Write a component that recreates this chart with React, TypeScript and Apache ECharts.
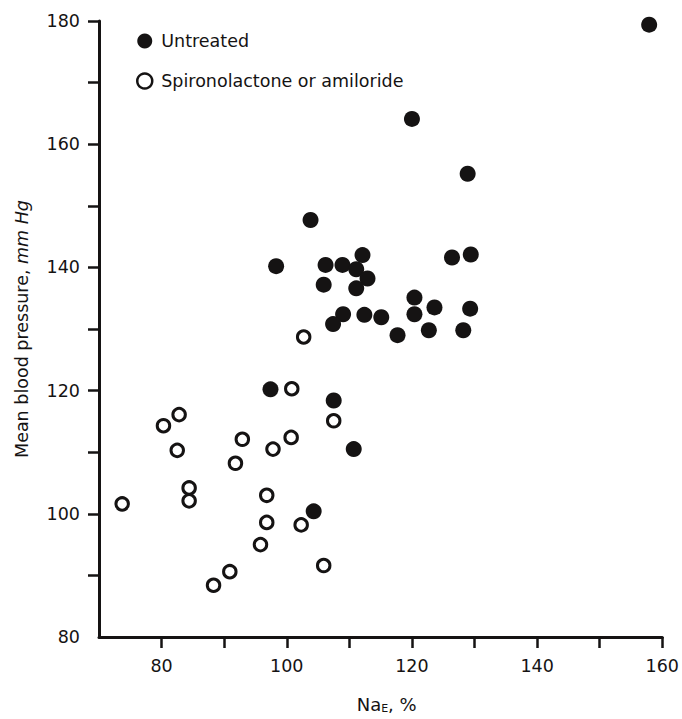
import React, { useEffect, useRef } from "react";
import * as echarts from "echarts";

const untreatedX = [157.9, 120.0, 128.9, 103.8, 98.3, 106.2, 108.9, 112.1, 111.1, 112.9, 111.1, 105.9, 126.4, 129.4, 120.4, 120.4, 123.6, 129.3, 109.0, 112.4, 115.1, 107.4, 117.7, 122.7, 128.2, 97.4, 107.5, 110.7, 104.3];
const untreatedY = [179.4, 164.1, 155.2, 147.7, 140.2, 140.4, 140.4, 142.0, 139.7, 138.2, 136.6, 137.2, 141.6, 142.1, 135.1, 132.4, 133.5, 133.3, 132.4, 132.3, 131.9, 130.8, 129.0, 129.8, 129.8, 120.2, 118.4, 110.5, 100.4];

const treatedX = [102.7, 100.8, 82.8, 80.3, 82.5, 92.9, 91.8, 97.8, 100.7, 107.5, 84.4, 84.4, 73.7, 96.8, 96.8, 95.8, 102.3, 105.9, 90.9, 88.3];
const treatedY = [128.7, 120.3, 116.1, 114.3, 110.3, 112.1, 108.2, 110.5, 112.4, 115.1, 104.2, 102.1, 101.6, 103.0, 98.6, 95.0, 98.2, 91.6, 90.6, 88.4];

const seriesNames = ["Untreated", "Spironolactone or amiloride"];
const xTicks = [80, 90, 100, 110, 120, 130, 140, 150, 160];
const xLabels = [80, 100, 120, 140, 160];
const yTicks = [90, 100, 110, 120, 130, 140, 150, 160, 170, 180];
const yLabels = [80, 100, 120, 140, 160, 180];

const INK = "#151313";
const FONT = "DejaVu Sans";

export default function App() {
  const ref = useRef<HTMLDivElement>(null);
  useEffect(() => {
    if (!ref.current) return;
    const chart = echarts.init(ref.current, undefined, { renderer: "svg" });
    const untreated = untreatedX.map((x, i) => [x, untreatedY[i]]);
    const treated = treatedX.map((x, i) => [x, treatedY[i]]);
    chart.setOption({
      animation: false,
      backgroundColor: "#ffffff",
      grid: { left: 99, right: 16, top: 21, bottom: 71, containLabel: false },
      legend: {
        orient: "vertical",
        left: 131,
        top: 27,
        itemGap: 22,
        itemWidth: 15,
        itemHeight: 15,
        textStyle: { color: INK, fontFamily: FONT, fontSize: 17.5, padding: [0, 0, 0, 4] },
        data: [
          { name: seriesNames[0], icon: "circle", itemStyle: { color: INK, borderWidth: 0 } },
          { name: seriesNames[1], icon: "circle", itemStyle: { color: "#ffffff", borderColor: INK, borderWidth: 2.5 } },
        ],
      },
      xAxis: {
        type: "value",
        min: 70,
        max: 160,
        interval: 10,
        name: "{a|Na}{s|E}{a|, %}",
        nameLocation: "middle",
        nameGap: 58,
        nameTextStyle: {
          padding: [0, 0, 0, 12],
          rich: {
            a: { fontFamily: FONT, fontSize: 18, color: INK },
            s: { fontFamily: FONT, fontSize: 11, color: INK, padding: [8, 0, 0, 0] },
          },
        },
        splitLine: { show: false },
        axisLine: { show: true, lineStyle: { color: INK, width: 3 } },
        axisTick: { show: true, length: 11, customValues: xTicks, lineStyle: { color: INK, width: 2.5 } },
        axisLabel: {
          customValues: xLabels,
          margin: 20,
          color: INK,
          fontFamily: FONT,
          fontSize: 17.5,
        },
      },
      yAxis: {
        type: "value",
        min: 80,
        max: 180,
        interval: 10,
        name: "{a|Mean blood pressure, }{b|mm Hg}",
        nameLocation: "middle",
        nameGap: 68,
        nameRotate: 90,
        nameTextStyle: {
          rich: {
            a: { fontFamily: FONT, fontSize: 17.5, color: INK },
            b: { fontFamily: FONT, fontSize: 17.5, color: INK, fontStyle: "italic" },
          },
        },
        splitLine: { show: false },
        axisLine: { show: true, lineStyle: { color: INK, width: 3 } },
        axisTick: { show: true, length: 11, customValues: yTicks, lineStyle: { color: INK, width: 2.5 } },
        axisLabel: {
          customValues: yLabels,
          margin: 19,
          color: INK,
          fontFamily: FONT,
          fontSize: 17.5,
        },
      },
      series: [
        {
          name: seriesNames[0],
          type: "scatter",
          symbol: "circle",
          symbolSize: 16,
          itemStyle: { color: INK, opacity: 1 },
          data: untreated,
          z: 3,
        },
        {
          name: seriesNames[1],
          type: "scatter",
          symbol: "circle",
          symbolSize: 12.5,
          itemStyle: { color: "#ffffff", borderColor: INK, borderWidth: 3, opacity: 1 },
          data: treated,
          z: 2,
        },
      ],
    });
    return () => chart.dispose();
  }, []);
  return (
    <div
      ref={ref}
      style={{ position: "fixed", left: 0, top: 0, width: 682, height: 719 }}
    />
  );
}
